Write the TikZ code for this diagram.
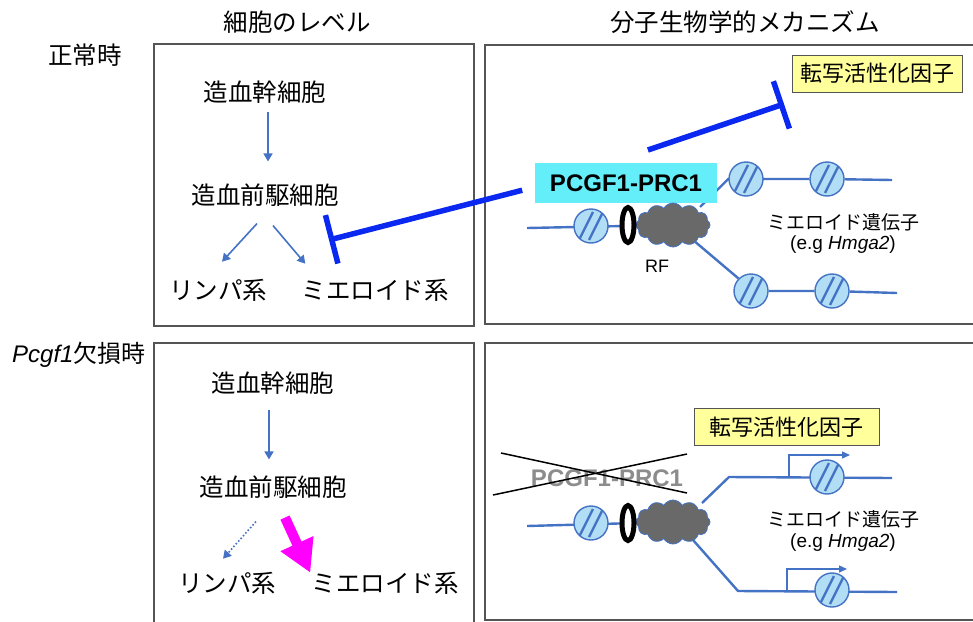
\documentclass[tikz,border=0pt]{standalone}
\usepackage{fontspec}
\setmainfont{Liberation Sans}
\newfontfamily\jp{Noto Sans CJK JP}
\usetikzlibrary{arrows.meta,shapes.geometric,shapes.symbols}

\definecolor{dnablue}{RGB}{68,114,196}
\definecolor{nucfill}{RGB}{178,222,245}
\definecolor{inhblue}{RGB}{10,40,240}
\definecolor{pcgfcyan}{RGB}{100,238,250}
\definecolor{tfyellow}{RGB}{255,255,155}
\definecolor{rfgray}{RGB}{105,105,105}
\definecolor{panelgray}{RGB}{85,85,85}
\definecolor{shiftpink}{RGB}{255,0,255}

\pgfdeclarelayer{background}
\pgfsetlayers{background,main}

\tikzset{
  panel/.style={draw=panelgray, line width=1.2pt},
  jhead/.style={font=\jp\fontsize{24.5}{29}\selectfont, inner sep=2pt},
  jlabel/.style={font=\jp\fontsize{24.5}{29}\selectfont, inner sep=2pt},
  glabel/.style={font=\fontsize{19}{23}\selectfont, inner sep=1pt},
  flow/.style={draw=dnablue, line width=1.6pt, -{Triangle[length=8pt,width=9pt]}},
  inhib/.style={draw=inhblue, line width=5.5pt, -{Bar[width=50pt]}},
  strand/.style={draw=dnablue, line width=2.4pt},
  promoter/.style={draw=dnablue, line width=1.3pt, -{Triangle[length=8pt,width=7pt]}},
  nuc/.style={circle, draw=dnablue, line width=1.4pt, fill=nucfill,
    minimum size=34pt, inner sep=0pt,
    path picture={
      \draw[dnablue, line width=2.4pt]
        ([shift={(-12pt,-14pt)}]path picture bounding box.center) -- ++(14pt,28pt)
        ([shift={(-2pt,-14pt)}]path picture bounding box.center) -- ++(14pt,28pt);
    }},
  dnaring/.style={ellipse, draw=black, line width=5pt, fill=white,
    minimum width=12pt, minimum height=35pt, inner sep=0pt},
  rfcloud/.style={cloud, cloud puffs=12, cloud puff arc=120, cloud ignores aspect,
    draw=dnablue, line width=0.8pt, fill=rfgray,
    minimum width=74pt, minimum height=44pt, inner sep=0pt},
  pcgfbox/.style={fill=pcgfcyan, font=\bfseries\fontsize{24}{28}\selectfont,
    minimum width=182pt, minimum height=40pt, inner sep=0pt},
  tfbox/.style={draw=panelgray, line width=1pt, fill=tfyellow,
    font=\jp\fontsize{22}{26}\selectfont, minimum height=37pt, inner sep=0pt},
  ghost/.style={text=black!45, font=\bfseries\fontsize{24}{28}\selectfont}
}

\begin{document}
\begin{tikzpicture}[x=1pt, y=-1pt]
\useasboundingbox (0,0) rectangle (973,621);
\clip (0,0) rectangle (973,621);

% panels
\draw[panel] (154,44) rectangle (474,326);
\draw[panel] (485,45) rectangle (990,324);
\draw[panel] (154,343) rectangle (474,640);
\draw[panel] (485,343) rectangle (990,620);

% headings
\node[jhead] (cellT) at (297,22) {細胞のレベル};
\node[jhead] (molT) at (745,22) {分子生物学的メカニズム};
\node[jhead] (normT) at (85,55) {正常時};
\node[font=\fontsize{24}{28}\selectfont, inner sep=0pt, anchor=west] (koT) at (12,355)
  {\textit{Pcgf1}{\jp 欠損時}};

% normal: cell level
\node[jlabel] (hscA) at (265,92) {造血幹細胞};
\node[jlabel] (progA) at (265,195) {造血前駆細胞};
\node[jlabel] (lymA) at (218,290) {リンパ系};
\node[jlabel] (myeA) at (375,290) {ミエロイド系};

\draw[flow, shorten <=6pt, shorten >=20pt] ([xshift=3pt]hscA.south) -- ([xshift=3pt]progA.north);
\draw[flow] ([xshift=-8pt,yshift=-15pt]progA.south) -- ([xshift=4pt,yshift=15pt]lymA.north);
\draw[flow] ([xshift=8pt,yshift=-17pt]progA.south) -- ([xshift=6pt,yshift=13pt]myeA.north west);

% normal: molecular level
\node[pcgfbox] (pcgfA) at (626,183) {PCGF1-PRC1};
\node[tfbox, minimum width=170pt] (tfA) at (877,73.5) {転写活性化因子};

\coordinate (dnaA0) at (527,228);
\node[nuc] (nucA1) at (591,226) {};
\node[rfcloud] (rfA) at (673,225) {};
\node[dnaring] (ringA) at (628,225) {};
\node[font=\fontsize{18}{22}\selectfont] (rfLabelA) at (657,266) {RF};
\node[nuc] (nucA2) at (746,179) {};
\node[nuc] (nucA3) at (827,179) {};
\coordinate (dnaA1) at (892,180);
\node[nuc] (nucA4) at (751,291) {};
\node[nuc] (nucA5) at (832,291) {};
\coordinate (dnaA2) at (897,293);
\node[glabel, font=\jp\fontsize{19}{23}\selectfont] (geneA) at (843,222) {ミエロイド遺伝子};
\node[glabel] (egA) at (843,245) {(e.g \textit{Hmga2})};

\begin{pgfonlayer}{background}
  \draw[strand] (dnaA0) -- (rfA.center);
  \draw[strand] ([shift={(27pt,18pt)}]rfA.center) -- (nucA2.west) -- (nucA3) -- (dnaA1);
  \draw[strand] ([shift={(20pt,-15pt)}]rfA.center) -- (nucA4.north west) -- (nucA4) -- (nucA5) -- (dnaA2);
\end{pgfonlayer}

% repression by PCGF1-PRC1
\coordinate (blockA) at (329,240);
\coordinate (blockB) at (784,104);
\draw[inhib, shorten <=13pt] ([yshift=-4pt]pcgfA.west) -- (blockA);
\draw[inhib, shorten <=40pt] ([xshift=-16pt]pcgfA.north) -- (blockB);

% Pcgf1 loss: cell level
\node[jlabel] (hscB) at (273,383) {造血幹細胞};
\node[jlabel] (progB) at (273,487) {造血前駆細胞};
\node[jlabel] (lymB) at (227,583) {リンパ系};
\node[jlabel] (myeB) at (385,583) {ミエロイド系};

\draw[flow, shorten <=13pt, shorten >=14pt] ([xshift=-4pt]hscB.south) -- ([xshift=-4pt]progB.north);
\draw[flow, dotted] ([xshift=-17pt,yshift=-21pt]progB.south) -- ([xshift=-4pt,yshift=11pt]lymB.north);
\draw[shiftpink, line width=10pt, -{Triangle[length=32pt,width=34pt]}]
  ([xshift=12pt,yshift=-17pt]progB.south) -- ([xshift=1pt,yshift=-3pt]myeB.north west);

% Pcgf1 loss: molecular level
\node[ghost] (ghostA) at (607,478) {PCGF1-PRC1};
\coordinate (crossA0) at (501,453);
\coordinate (crossA1) at (687,493);
\coordinate (crossB0) at (493,495);
\coordinate (crossB1) at (687,454);
\draw[black, line width=1.5pt] (crossA0) -- (crossA1);
\draw[black, line width=1.5pt] (crossB0) -- (crossB1);

\node[tfbox, minimum width=185pt] (tfB) at (786.5,427) {転写活性化因子};

\coordinate (dnaB0) at (527,526);
\node[nuc] (nucB1) at (591,523) {};
\node[rfcloud] (rfB) at (673,522) {};
\node[dnaring] (ringB) at (628,523) {};
\coordinate (bendB1) at (729,477);
\coordinate (bendB2) at (738,591);
\node[nuc] (nucB2) at (827,477) {};
\node[nuc] (nucB3) at (832,590) {};
\coordinate (dnaB1) at (892,478);
\coordinate (dnaB2) at (897,592);
\coordinate (tssB1) at (789,477);
\coordinate (tssB2) at (787,591);
\node[glabel, font=\jp\fontsize{19}{23}\selectfont] (geneB) at (843,519) {ミエロイド遺伝子};
\node[glabel] (egB) at (843,543) {(e.g \textit{Hmga2})};

\begin{pgfonlayer}{background}
  \draw[strand] (dnaB0) -- (rfB.center);
  \draw[strand] ([shift={(29pt,19pt)}]rfB.center) -- (bendB1) -- (dnaB1);
  \draw[strand] ([shift={(20pt,-18pt)}]rfB.center) -- (bendB2) -- (dnaB2);
  \draw[promoter] (tssB1) |- ++(61,-22);
  \draw[promoter] (tssB2) |- ++(60,-22);
\end{pgfonlayer}
\end{tikzpicture}
\end{document}
